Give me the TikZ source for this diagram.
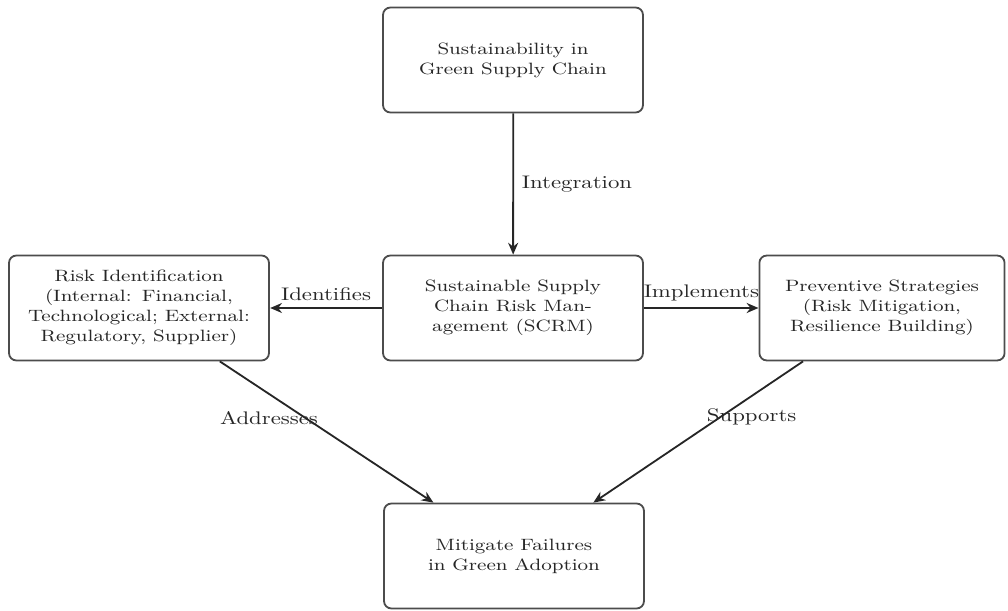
\documentclass[tikz,border=0pt]{standalone}
\usetikzlibrary{arrows.meta}
\begin{document}
% Coordinates are given in a 1008 x 611 grid (y downwards); the whole
% picture is widened by 25 per cent, text included.
\begin{tikzpicture}[x=0.4392pt, y=-0.549pt, xscale=1.25, transform shape,
  box/.style={draw=black!70, line width=1pt, rounded corners=4pt, fill=white,
    align=center, font=\small, text=black!85, text width=107.5pt,
    minimum height=57.6pt, inner sep=3.33pt},
  link/.style={draw=black!85, line width=1pt, -{Stealth[length=6.5pt,width=5.5pt]}},
  tag/.style={font=\normalsize, text=black!85}]
  \useasboundingbox (0,0) rectangle (1008,611);

  % boxes
  \node[box] (top)  at (513,60)  {Sustainability in\\Green Supply Chain};
  \node[box] (scrm) at (513,308) {Sustainable Supply\\Chain Risk Man-\\agement (SCRM)};
  \node[box] (risk) at (139,308) {Risk Identification\\(Internal: Financial,\\Technological; External:\\Regulatory, Supplier)};
  \node[box, text width=101pt] (prev) at (882,308) {Preventive Strategies\\(Risk Mitigation,\\Resilience Building)};
  \node[box] (fail) at (514,556) {Mitigate Failures\\in Green Adoption};

  % connectors
  \draw[link] (top)  -- node[tag, right] {Integration} (scrm);
  \draw[link] (scrm) -- node[tag, above] {Identifies} (risk);
  \draw[link] (scrm) -- node[tag, above] {Implements} (prev);
  \draw[link] (risk) -- node[tag, above left] {Addresses} (fail);
  \draw[link] (prev) -- node[tag, above right] {Supports} (fail);
\end{tikzpicture}
\end{document}
